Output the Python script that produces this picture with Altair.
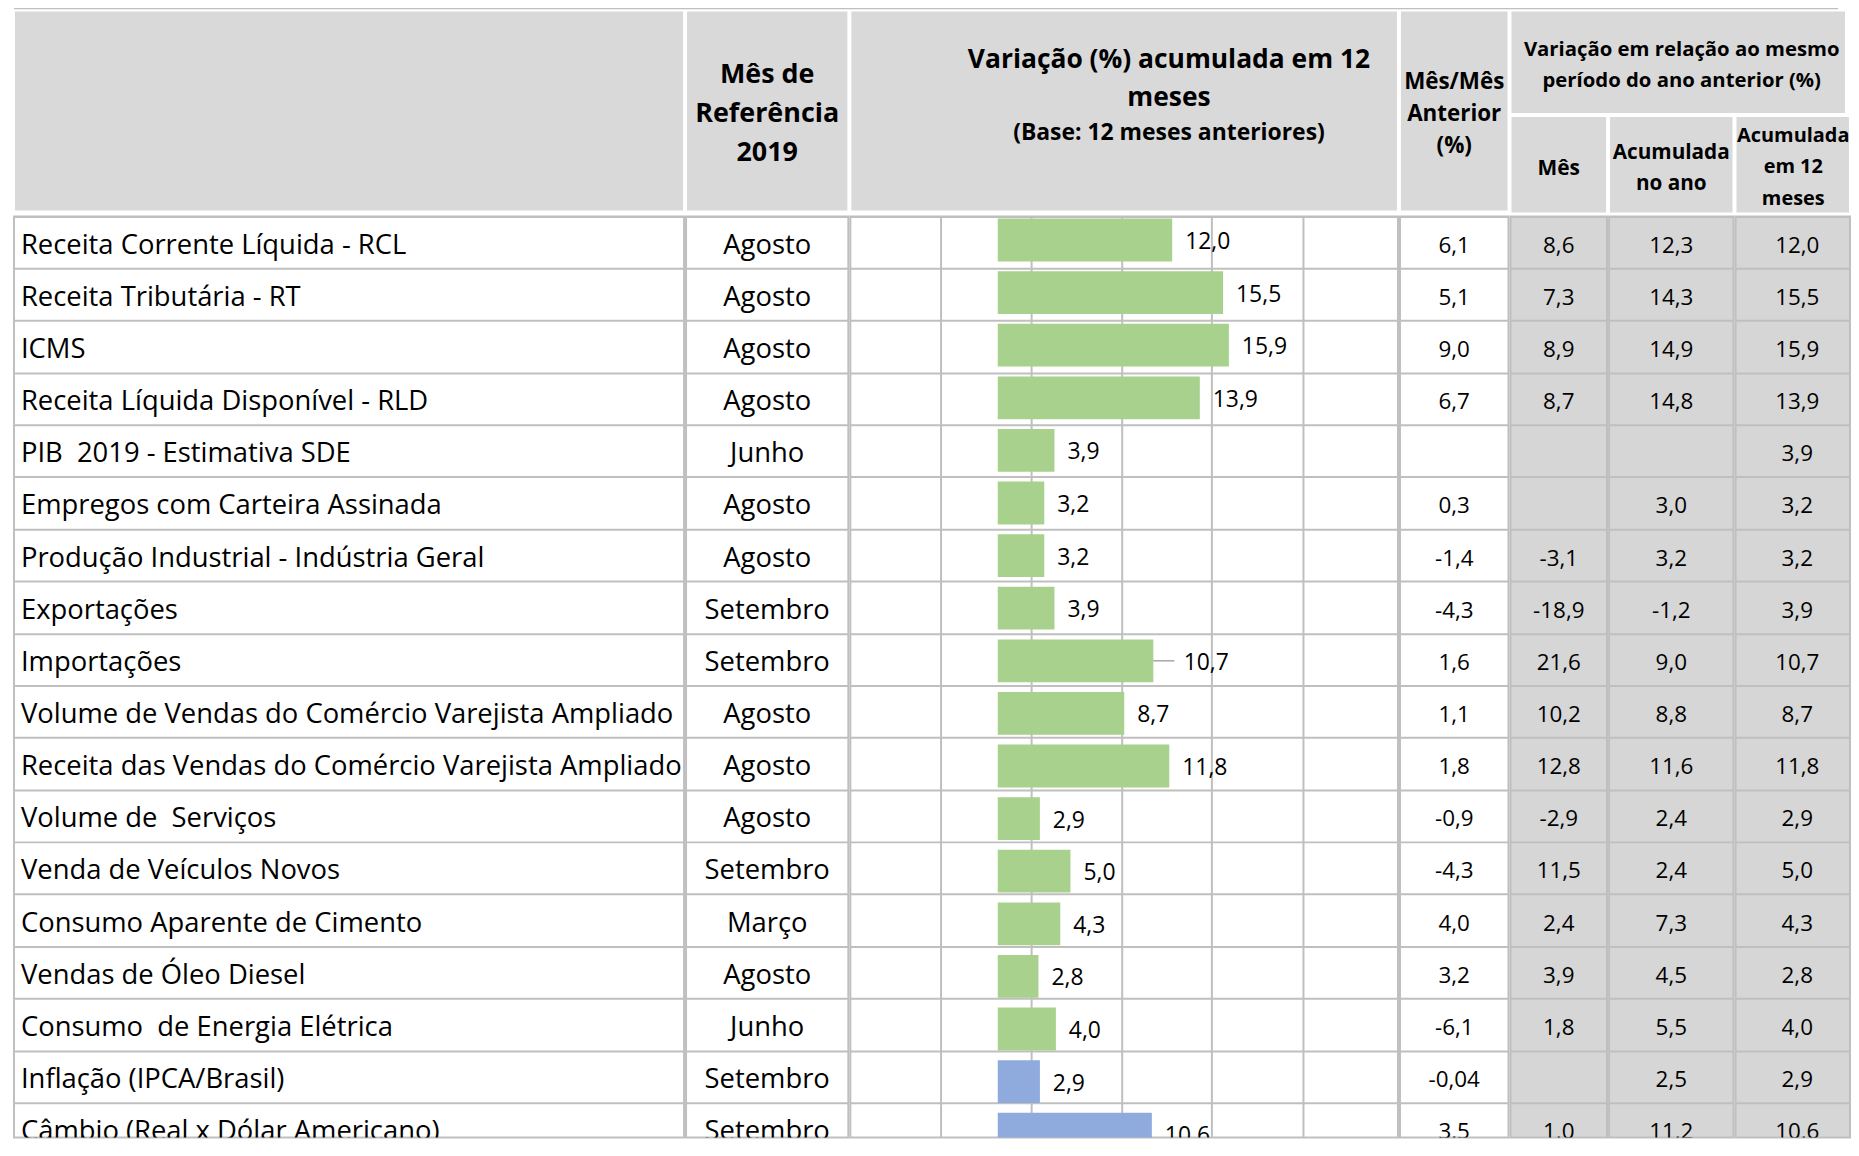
import altair as alt
import pandas as pd

# ---------------- data ----------------
indicadores = [
    "Receita Corrente Líquida - RCL",
    "Receita Tributária - RT",
    "ICMS",
    "Receita Líquida Disponível - RLD",
    "PIB\u00a0 2019 - Estimativa SDE",
    "Empregos com Carteira Assinada",
    "Produção Industrial - Indústria Geral",
    "Exportações",
    "Importações",
    "Volume de Vendas do Comércio Varejista Ampliado",
    "Receita das Vendas do Comércio Varejista Ampliado",
    "Volume de\u00a0 Serviços",
    "Venda de Veículos Novos",
    "Consumo Aparente de Cimento",
    "Vendas de Óleo Diesel",
    "Consumo\u00a0 de Energia Elétrica",
    "Inflação (IPCA/Brasil)",
    "Câmbio (Real x Dólar Americano)",
]
meses_ref = ["Agosto", "Agosto", "Agosto", "Agosto", "Junho", "Agosto", "Agosto",
             "Setembro", "Setembro", "Agosto", "Agosto", "Agosto", "Setembro",
             "Março", "Agosto", "Junho", "Setembro", "Setembro"]
acum_12m = [12.0, 15.5, 15.9, 13.9, 3.9, 3.2, 3.2, 3.9, 10.7, 8.7, 11.8, 2.9,
            5.0, 4.3, 2.8, 4.0, 2.9, 10.6]
mes_mes_anterior = [6.1, 5.1, 9.0, 6.7, None, 0.3, -1.4, -4.3, 1.6, 1.1, 1.8, -0.9,
                    -4.3, 4.0, 3.2, -6.1, -0.04, 3.5]
var_mes = [8.6, 7.3, 8.9, 8.7, None, None, -3.1, -18.9, 21.6, 10.2, 12.8, -2.9,
           11.5, 2.4, 3.9, 1.8, None, 1.0]
acum_ano = [12.3, 14.3, 14.9, 14.8, None, 3.0, 3.2, -1.2, 9.0, 8.8, 11.6, 2.4,
            2.4, 7.3, 4.5, 5.5, 2.5, 11.2]
grupo = ["Atividade"] * 16 + ["Preços"] * 2
rotulo_com_guia = ["Importações"]
grade_x = [-3.9, 2.33, 8.56, 14.73, 21.03]   # cell borders behind the bar chart, in axis units

# ---------------- style / layout ----------------
FONT = "Open Sans"
LINE = "#BFBFBF"
HEAD = "#D9D9D9"
BODY_GRAY = "#D6D6D6"
GREEN = "#A9D18E"
BLUE = "#8FAADC"

COLW = [673, 163, 550, 109, 97, 125, 115]
HEAD_H = 202
SUB_TOP = 104
ROW_H = 52.38
N = len(indicadores)
ROWS_SPAN = round(ROW_H * N, 1)
BODY_H = 925  # visible part of the body (the last row is cut by the window)

X_MIN, X_MAX = -10.14, 27.53
BAR_TOP, BAR_STEP, BAR_PAD = 2, 52.83, 0.186


def fmt(v):
    if v is None:
        return ""
    s = f"{v:.2f}" if abs(round(v, 1) - v) > 1e-9 else f"{v:.1f}"
    return s.replace(".", ",")


df = pd.DataFrame({
    "ind": indicadores,
    "mes": meses_ref,
    "v12": acum_12m,
    "grupo": grupo,
    "t12": [fmt(v) for v in acum_12m],
    "tmm": [fmt(v) for v in mes_mes_anterior],
    "tmes": [fmt(v) for v in var_mes],
    "tano": [fmt(v) for v in acum_ano],
    "guia": [i in rotulo_com_guia for i in indicadores],
})
grade_df = pd.DataFrame({"gx": grade_x})
one = pd.DataFrame({"k": [0]})


def view(fill, stroke, sw=2):
    return alt.ViewBackground(fill=fill, stroke=stroke, strokeWidth=sw)


def blank(width, height, fill, stroke, sw=2):
    # an invisible rule inside the view, so the cell has no extent beyond its size
    return alt.Chart(one).mark_rule(strokeWidth=0, strokeOpacity=0).encode(
        x=alt.value(0), x2=alt.value(width), y=alt.value(height / 2)
    ).properties(width=width, height=height, view=view(fill, stroke, sw))


# ---------------- header ----------------
def header_cell(width, height, texts):
    if not texts:
        return blank(width, height, HEAD, "white")
    layers = []
    for lines, x, y, size, lh in texts:
        layers.append(
            alt.Chart(one).mark_text(
                text=lines, align="center", baseline="alphabetic", fontSize=size,
                lineHeight=lh, fontWeight="bold", font=FONT, color="black", clip=True
            ).encode(x=alt.value(x), y=alt.value(y))
        )
    return alt.layer(*layers).properties(width=width, height=height, view=view(HEAD, "white"))


h0 = header_cell(COLW[0], HEAD_H, [])
h1 = header_cell(COLW[1], HEAD_H, [(["Mês de", "Referência", "2019"], COLW[1] / 2, 73, 27, 39)])
h2 = header_cell(COLW[2], HEAD_H, [
    (["Variação (%) acumulada em 12", "meses"], 320, 58, 26.5, 38),
    (["(Base: 12 meses anteriores)"], 320, 130, 23, 30),
])
h3 = header_cell(COLW[3], HEAD_H, [(["Mês/Mês", "Anterior", "(%)"], COLW[3] / 2, 79, 22.5, 32)])
mw = COLW[4] + COLW[5] + COLW[6]
hm = header_cell(mw, SUB_TOP, [(["Variação em relação ao mesmo", "período do ano anterior (%)"], 172, 46, 20.4, 31)])
sub_h = HEAD_H - SUB_TOP
s4 = header_cell(COLW[4], sub_h, [(["Mês"], COLW[4] / 2, 59, 21, 31)])
s5 = header_cell(COLW[5], sub_h, [(["Acumulada", "no ano"], COLW[5] / 2, 43, 20.8, 31.5)])
s6 = header_cell(COLW[6], sub_h, [(["Acumulada", "em 12", "meses"], 58, 26, 20, 31.5)])

header = alt.hconcat(
    h0, h1, h2, h3,
    alt.vconcat(hm, alt.hconcat(s4, s5, s6, spacing=0), spacing=0),
    spacing=0,
)

topline = blank(sum(COLW), 3, LINE, "transparent", 0)


# ---------------- body ----------------
def y_rows():
    return alt.Y(
        "ind:N", sort=indicadores,
        scale=alt.Scale(type="band", domain=indicadores, paddingInner=0, paddingOuter=0,
                        range=[0, ROWS_SPAN]),
        axis=alt.Axis(grid=True, bandPosition=0, labels=False, ticks=False, domain=False,
                      title=None, gridColor=LINE, gridWidth=2, minExtent=0, maxExtent=0),
    )


def body_col(field, width, align="center", fill="white", size=22.5, x=None):
    if x is None:
        x = 7 if align == "left" else width / 2
    return alt.Chart(df).mark_text(
        align=align, baseline="middle", fontSize=size, font=FONT, color="black", dy=3, clip=True
    ).encode(y=y_rows(), x=alt.value(x), text=f"{field}:N").properties(
        width=width, height=BODY_H, view=view(fill, LINE)
    )


b0 = body_col("ind", COLW[0], align="left", size=27.5)
b1 = body_col("mes", COLW[1], size=27.5)

x_scale = alt.Scale(domain=[X_MIN, X_MAX], nice=False, zero=False)
bar_span = BAR_STEP * (N - BAR_PAD)
bar_scale = alt.Scale(type="band", domain=indicadores, range=[BAR_TOP, BAR_TOP + bar_span],
                      paddingInner=BAR_PAD, paddingOuter=0)
y_bar = alt.Y("ind:N", scale=bar_scale, axis=None)

rows_layer = alt.Chart(df).mark_text(text="").encode(y=y_rows(), x=alt.value(COLW[2] / 2))
grade = alt.Chart(grade_df).mark_rule(color=LINE, strokeWidth=2).encode(
    x=alt.X("gx:Q", scale=x_scale, axis=None)
)
bars = alt.Chart(df).mark_bar(clip=True).encode(
    x=alt.X("v12:Q", scale=x_scale, axis=None),
    y=y_bar,
    color=alt.Color("grupo:N", scale=alt.Scale(domain=["Atividade", "Preços"], range=[GREEN, BLUE]),
                    legend=None),
)
guia = alt.Chart(df).transform_filter("datum.guia").transform_calculate(
    gx2="datum.v12 + 1.45"
).transform_fold(["v12", "gx2"], as_=["ponta", "gx"]).mark_line(
    color="#A6A6A6", strokeWidth=1.5
).encode(
    x=alt.X("gx:Q", scale=x_scale, axis=None), y=y_bar, detail="ind:N"
)
labels = alt.Chart(df).transform_calculate(
    lx="datum.v12 + (datum.guia ? 1.2 : 0)"
).mark_text(align="left", baseline="middle", dx=13, dy=2, fontSize=23, font=FONT,
            color="black", clip=True).encode(
    x=alt.X("lx:Q", scale=x_scale, axis=None), y=y_bar, text="t12:N"
)
b2 = alt.layer(rows_layer, grade, bars, guia, labels).resolve_scale(y="independent").properties(
    width=COLW[2], height=BODY_H, view=view("white", LINE)
)

b3 = body_col("tmm", COLW[3])
b4 = body_col("tmes", COLW[4], fill=BODY_GRAY)
b5 = body_col("tano", COLW[5], fill=BODY_GRAY)
b6 = body_col("t12", COLW[6], fill=BODY_GRAY, x=62)

body = alt.hconcat(b0, b1, b2, b3, b4, b5, b6, spacing=0)

chart = alt.vconcat(topline, header, body, spacing=0).properties(
    padding={"left": 5, "top": -4, "right": 0, "bottom": 0},
    background="white",
).configure(font=FONT)

chart.save("out.html", embed_options={"renderer": "svg", "actions": False})
